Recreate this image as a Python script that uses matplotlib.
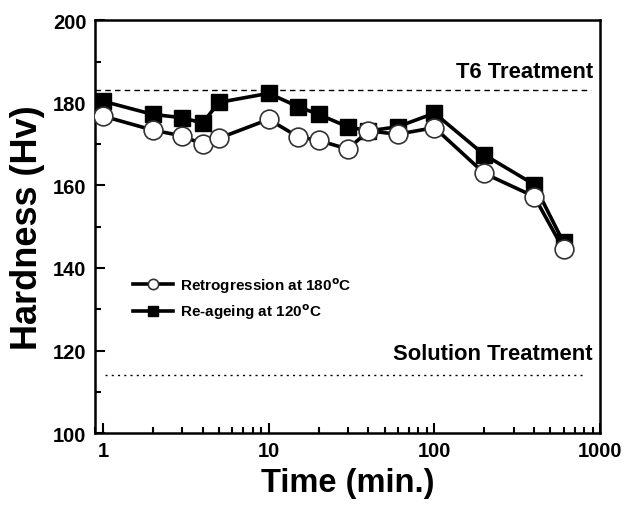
import matplotlib
matplotlib.use("Agg")
import matplotlib.pyplot as plt
from matplotlib.ticker import MultipleLocator, LogLocator, NullFormatter, FixedLocator, FixedFormatter

plt.rcParams['font.family'] = ['Liberation Sans', 'DejaVu Sans']
plt.rcParams['font.weight'] = 'bold'
plt.rcParams['mathtext.default'] = 'bf'

time_min = [1, 2, 3, 4, 5, 10, 15, 20, 30, 40, 60, 100, 200, 400, 600]
retrogression_180 = [176.8, 173.4, 172.0, 170.0, 171.4, 176.0, 171.8, 170.9, 168.8,
                     173.2, 172.4, 174.0, 162.9, 157.3, 144.5]
reageing_120 = [180.4, 177.2, 176.4, 175.1, 180.1, 182.3, 179.1, 177.2, 174.2,
                173.2, 174.2, 177.5, 167.4, 160.2, 146.2]
t6_level = 183
solution_level = 114
x_ticks = [1, 10, 100, 1000]
x_tick_labels = ['1', '10', '100', '1000']
y_ticks = [100, 120, 140, 160, 180, 200]

fig = plt.figure(figsize=(6.24, 5.06), dpi=100)
ax = fig.add_axes([0.152, 0.142, 0.810, 0.816])

ax.set_xscale('log')
ax.set_xlim(0.895, 1000)
ax.set_ylim(100, 200)

# reference levels
ax.plot([0.895, 880], [t6_level, t6_level], ls=(0, (4, 3)), color='black', lw=1.0, zorder=1)
ax.plot([1.03, 820], [solution_level, solution_level], ls=(0, (1.5, 3)), color='black', lw=1.0, zorder=1)
ax.text(905, 186.3, 'T6 Treatment', ha='right', va='baseline', fontsize=15.8, fontweight='bold')
ax.text(905, 117.9, 'Solution Treatment', ha='right', va='baseline', fontsize=15.8, fontweight='bold')

ax.plot(time_min, reageing_120, '-', color='black', lw=2.6, marker='s', markersize=12,
        markerfacecolor='black', markeredgecolor='black', zorder=3,
        label='Re-ageing at 120$^{\\mathbf{o}}$C')
ax.plot(time_min, retrogression_180, '-', color='black', lw=2.6, marker='o', markersize=13.5,
        markerfacecolor='white', markeredgecolor='#333333', markeredgewidth=1.2, zorder=4,
        label='Retrogression at 180$^{\\mathbf{o}}$C')

handles, labels = ax.get_legend_handles_labels()
leg = ax.legend(handles[::-1], labels[::-1], loc='upper left', bbox_to_anchor=(0.048, 0.416),
                frameon=False, fontsize=11, markerscale=0.55, handlelength=2.6,
                handletextpad=0.5, labelspacing=0.45)
for t in leg.get_texts():
    t.set_fontweight('bold')

ax.xaxis.set_major_locator(FixedLocator(x_ticks))
ax.xaxis.set_major_formatter(FixedFormatter(x_tick_labels))
ax.xaxis.set_minor_locator(LogLocator(base=10, subs=range(2, 10), numticks=20))
ax.xaxis.set_minor_formatter(NullFormatter())
ax.set_yticks(y_ticks)
ax.yaxis.set_minor_locator(MultipleLocator(10))

ax.tick_params(which='both', direction='in', top=False, right=False, width=1.5)
ax.tick_params(which='major', length=7, labelsize=14.5, pad=6)
ax.tick_params(which='minor', length=4)
for lab in ax.get_xticklabels() + ax.get_yticklabels():
    lab.set_fontweight('bold')
for s in ax.spines.values():
    s.set_linewidth(1.8)

ax.set_xlabel('Time (min.)', fontsize=23.5, fontweight='bold', labelpad=5)
ax.set_ylabel('Hardness (Hv)', fontsize=26, fontweight='bold', labelpad=6)

fig.savefig('out.png', dpi=100)
